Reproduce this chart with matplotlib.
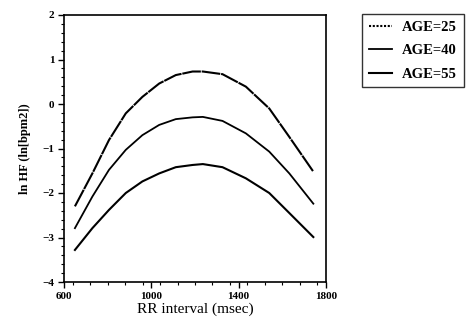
import numpy as np
import matplotlib.pyplot as plt
from matplotlib.ticker import MultipleLocator

plt.rcParams['font.family'] = ['Liberation Serif', 'DejaVu Serif']

# RR interval (msec) and predicted ln HF for three ages
rr = [650, 730, 806, 883, 959, 1036, 1112, 1189, 1236, 1326, 1433, 1540, 1632, 1742]
hf_25 = [-2.30, -1.56, -0.81, -0.21, 0.16, 0.46, 0.65, 0.73, 0.73, 0.67, 0.39, -0.10, -0.74, -1.52]
hf_40 = [-2.79, -2.08, -1.48, -1.03, -0.70, -0.47, -0.34, -0.30, -0.29, -0.38, -0.66, -1.07, -1.56, -2.24]
hf_55 = [-3.28, -2.79, -2.38, -2.00, -1.74, -1.56, -1.42, -1.37, -1.35, -1.42, -1.67, -2.00, -2.45, -2.99]
labels = ['AGE=25', 'AGE=40', 'AGE=55']

fig = plt.figure(figsize=(4.7, 3.21), dpi=100)
ax = fig.add_axes([64 / 470, 1 - 282 / 321, 262 / 470, 267 / 321])

ax.plot(rr, hf_25, color='black', lw=1.5, ls=(0, (9, 0.4)), label=labels[0])
ax.plot(rr, hf_40, color='black', lw=1.3, label=labels[1])
ax.plot(rr, hf_55, color='black', lw=1.5, label=labels[2])

ax.set_xlim(600, 1800)
ax.set_ylim(-4, 2)
ax.set_xticks([600, 1000, 1400, 1800])
ax.set_yticks([-4, -3, -2, -1, 0, 1, 2])
ax.xaxis.set_minor_locator(MultipleLocator(80))
ax.yaxis.set_minor_locator(MultipleLocator(0.2))
ax.tick_params(which='major', direction='out', length=4, width=1.0, pad=3,
               labelsize=8)
ax.tick_params(which='minor', direction='out', length=2, width=0.8)
for lbl in ax.get_xticklabels() + ax.get_yticklabels():
    lbl.set_fontweight('bold')
for sp in ax.spines.values():
    sp.set_linewidth(1.2)

ax.set_xlabel('RR interval (msec)', fontsize=11, labelpad=1)
ax.set_ylabel('ln HF (ln[bpm2])', fontsize=9, fontweight='bold', labelpad=8)

leg = fig.legend(loc='upper left', bbox_to_anchor=(362 / 470, 1 - 14 / 321),
                 borderaxespad=0, handlelength=1.6, handletextpad=0.7,
                 labelspacing=0.7, borderpad=0.45, fancybox=False,
                 edgecolor='black',
                 prop={'family': 'Liberation Serif', 'weight': 'bold', 'size': 10.5})
leg.get_frame().set_linewidth(1.0)
leg.get_lines()[0].set_linestyle((0, (1, 0.8)))

fig.savefig('out.png', dpi=100)
